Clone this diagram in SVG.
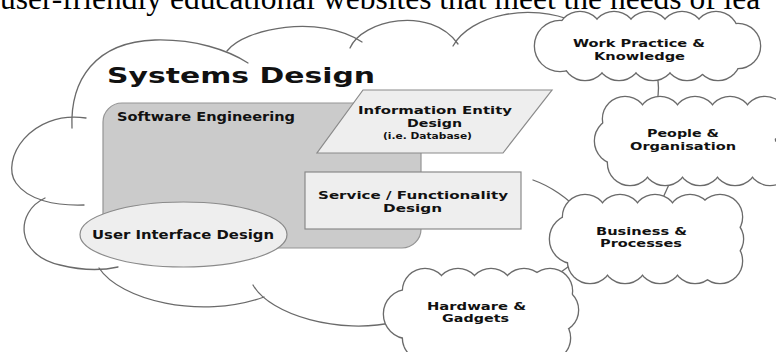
<svg xmlns="http://www.w3.org/2000/svg" width="776" height="352" viewBox="0 0 776 352">
<style>
.lbl{font-family:"DejaVu Sans",Verdana,sans-serif;font-weight:bold;fill:#111;}
.arc{fill:none;stroke:#6a6a6a;stroke-width:1.3;stroke-linecap:round;}
.co{fill:none;stroke:#6a6a6a;stroke-width:2.6;}
.cf{fill:#fff;stroke:none;}
.conn{fill:none;stroke:#6a6a6a;stroke-width:1.3;}
.pale{fill:#eeeeee;stroke:#8a8a8a;stroke-width:1.2;}
</style>
<defs>
<g id="wp-shape">
<ellipse cx="648" cy="46" rx="85" ry="22"/>
<circle cx="560" cy="46" r="25"/>
<circle cx="580" cy="34" r="22"/><circle cx="614" cy="34" r="22"/><circle cx="648" cy="34" r="22"/><circle cx="682" cy="34" r="22"/><circle cx="716" cy="34" r="22"/>
<circle cx="585" cy="58" r="22"/><circle cx="619" cy="58" r="22"/><circle cx="653" cy="58" r="22"/><circle cx="687" cy="58" r="22"/><circle cx="718" cy="58" r="22"/>
<circle cx="738" cy="46" r="22"/>
</g>
<g id="po-shape">
<ellipse cx="690" cy="141" rx="85" ry="28"/>
<circle cx="618" cy="141" r="23"/>
<circle cx="625" cy="119" r="22"/><circle cx="660" cy="119" r="22"/><circle cx="695" cy="119" r="22"/><circle cx="730" cy="119" r="22"/><circle cx="765" cy="119" r="22"/>
<circle cx="630" cy="163" r="22"/><circle cx="665" cy="163" r="22"/><circle cx="700" cy="163" r="22"/><circle cx="735" cy="163" r="22"/><circle cx="770" cy="163" r="22"/>
</g>
<g id="bp-shape">
<ellipse cx="648" cy="239" rx="78" ry="26"/>
<circle cx="574" cy="239" r="24"/>
<circle cx="585" cy="217" r="22"/><circle cx="620" cy="217" r="22"/><circle cx="655" cy="217" r="22"/><circle cx="690" cy="217" r="22"/><circle cx="720" cy="217" r="22"/>
<circle cx="590" cy="261" r="22"/><circle cx="625" cy="261" r="22"/><circle cx="660" cy="261" r="22"/><circle cx="695" cy="261" r="22"/><circle cx="720" cy="261" r="22"/>
<circle cx="722" cy="239" r="21"/>
</g>
<g id="hg-shape">
<ellipse cx="482" cy="314" rx="78" ry="30"/>
<circle cx="408" cy="314" r="24"/>
<circle cx="425" cy="291" r="22"/><circle cx="458" cy="291" r="22"/><circle cx="491" cy="291" r="22"/><circle cx="524" cy="291" r="22"/><circle cx="550" cy="291" r="22"/>
<circle cx="425" cy="338" r="22"/><circle cx="458" cy="338" r="22"/><circle cx="491" cy="338" r="22"/><circle cx="524" cy="338" r="22"/><circle cx="548" cy="338" r="22"/>
<circle cx="556" cy="310" r="22"/>
</g>
</defs>
<rect width="776" height="352" fill="#fff"/>
<text x="0" y="9" font-family="'Liberation Serif',serif" font-size="31.5" fill="#000">user-friendly educational websites that meet the needs of lea</text>

<g id="systems-design">
<path class="arc" d="M72,128 C70,80 95,42 155,40 C195,39 228,50 248,63"/>
<path class="arc" d="M227,51 C245,28 320,14 362,42"/>
<path class="arc" d="M350,48 C362,20 430,5 458,44"/>
<path class="arc" d="M453,46 C470,15 530,2 575,22"/>
<path class="arc" d="M533,180 C550,186 568,198 580,212"/>
<path class="arc" d="M86,118 C30,110 0,160 16,183 C28,200 55,206 84,205"/>
<path class="arc" d="M45,198 C15,212 15,255 60,265 C80,270 100,271 118,267"/>
<path class="arc" d="M99,268 C120,300 200,320 264,297"/>
<path class="arc" d="M253,285 C270,315 340,335 395,322"/>
<text class="lbl" x="107" y="83" font-size="21" textLength="268" lengthAdjust="spacingAndGlyphs">Systems Design</text>
</g>

<g id="software-engineering">
<rect x="103" y="103" width="318" height="145" rx="19" fill="#cbcbcb" stroke="#959595" stroke-width="1.2"/>
<text class="lbl" x="117" y="120.5" font-size="12" textLength="178" lengthAdjust="spacingAndGlyphs">Software Engineering</text>
</g>

<g id="information-entity-design">
<polygon class="pale" points="363,90 552,90 503,153 317,153"/>
<text class="lbl" x="358" y="114" font-size="11" textLength="154" lengthAdjust="spacingAndGlyphs">Information Entity</text>
<text class="lbl" x="407" y="127" font-size="11" textLength="55" lengthAdjust="spacingAndGlyphs">Design</text>
<text class="lbl" x="383" y="139" font-size="9" textLength="89" lengthAdjust="spacingAndGlyphs">(i.e. Database)</text>
</g>

<g id="service-functionality-design">
<rect class="pale" x="305" y="172" width="216" height="57"/>
<text class="lbl" x="318" y="198.5" font-size="11" textLength="190" lengthAdjust="spacingAndGlyphs">Service / Functionality</text>
<text class="lbl" x="383" y="211.5" font-size="11" textLength="59" lengthAdjust="spacingAndGlyphs">Design</text>
</g>

<g id="user-interface-design">
<ellipse class="pale" cx="183.5" cy="234.5" rx="103.5" ry="32.5"/>
<text class="lbl" x="92" y="239" font-size="12" textLength="182" lengthAdjust="spacingAndGlyphs">User Interface Design</text>
</g>

<g id="connectors">
<path class="conn" d="M657,76 Q660,88 657,101"/>
<path class="conn" d="M671,180 L662,200"/>
<path class="conn" d="M550,280 L572,264"/>
</g>

<g id="work-practice-knowledge">
<use href="#wp-shape" class="co"/>
<use href="#wp-shape" class="cf"/>
<text class="lbl" x="573" y="47" font-size="11" textLength="132" lengthAdjust="spacingAndGlyphs">Work Practice &amp;</text>
<text class="lbl" x="594" y="59.5" font-size="11" textLength="91" lengthAdjust="spacingAndGlyphs">Knowledge</text>
</g>

<g id="people-organisation">
<use href="#po-shape" class="co"/>
<use href="#po-shape" class="cf"/>
<text class="lbl" x="647" y="137" font-size="11" textLength="72" lengthAdjust="spacingAndGlyphs">People &amp;</text>
<text class="lbl" x="630" y="149.5" font-size="11" textLength="106" lengthAdjust="spacingAndGlyphs">Organisation</text>
</g>

<g id="business-processes">
<use href="#bp-shape" class="co"/>
<use href="#bp-shape" class="cf"/>
<text class="lbl" x="596" y="234.5" font-size="11" textLength="91" lengthAdjust="spacingAndGlyphs">Business &amp;</text>
<text class="lbl" x="600" y="247" font-size="11" textLength="82" lengthAdjust="spacingAndGlyphs">Processes</text>
</g>

<g id="hardware-gadgets">
<use href="#hg-shape" class="co"/>
<use href="#hg-shape" class="cf"/>
<text class="lbl" x="427" y="309.5" font-size="11" textLength="99" lengthAdjust="spacingAndGlyphs">Hardware &amp;</text>
<text class="lbl" x="442" y="322" font-size="11" textLength="67" lengthAdjust="spacingAndGlyphs">Gadgets</text>
</g>
</svg>
